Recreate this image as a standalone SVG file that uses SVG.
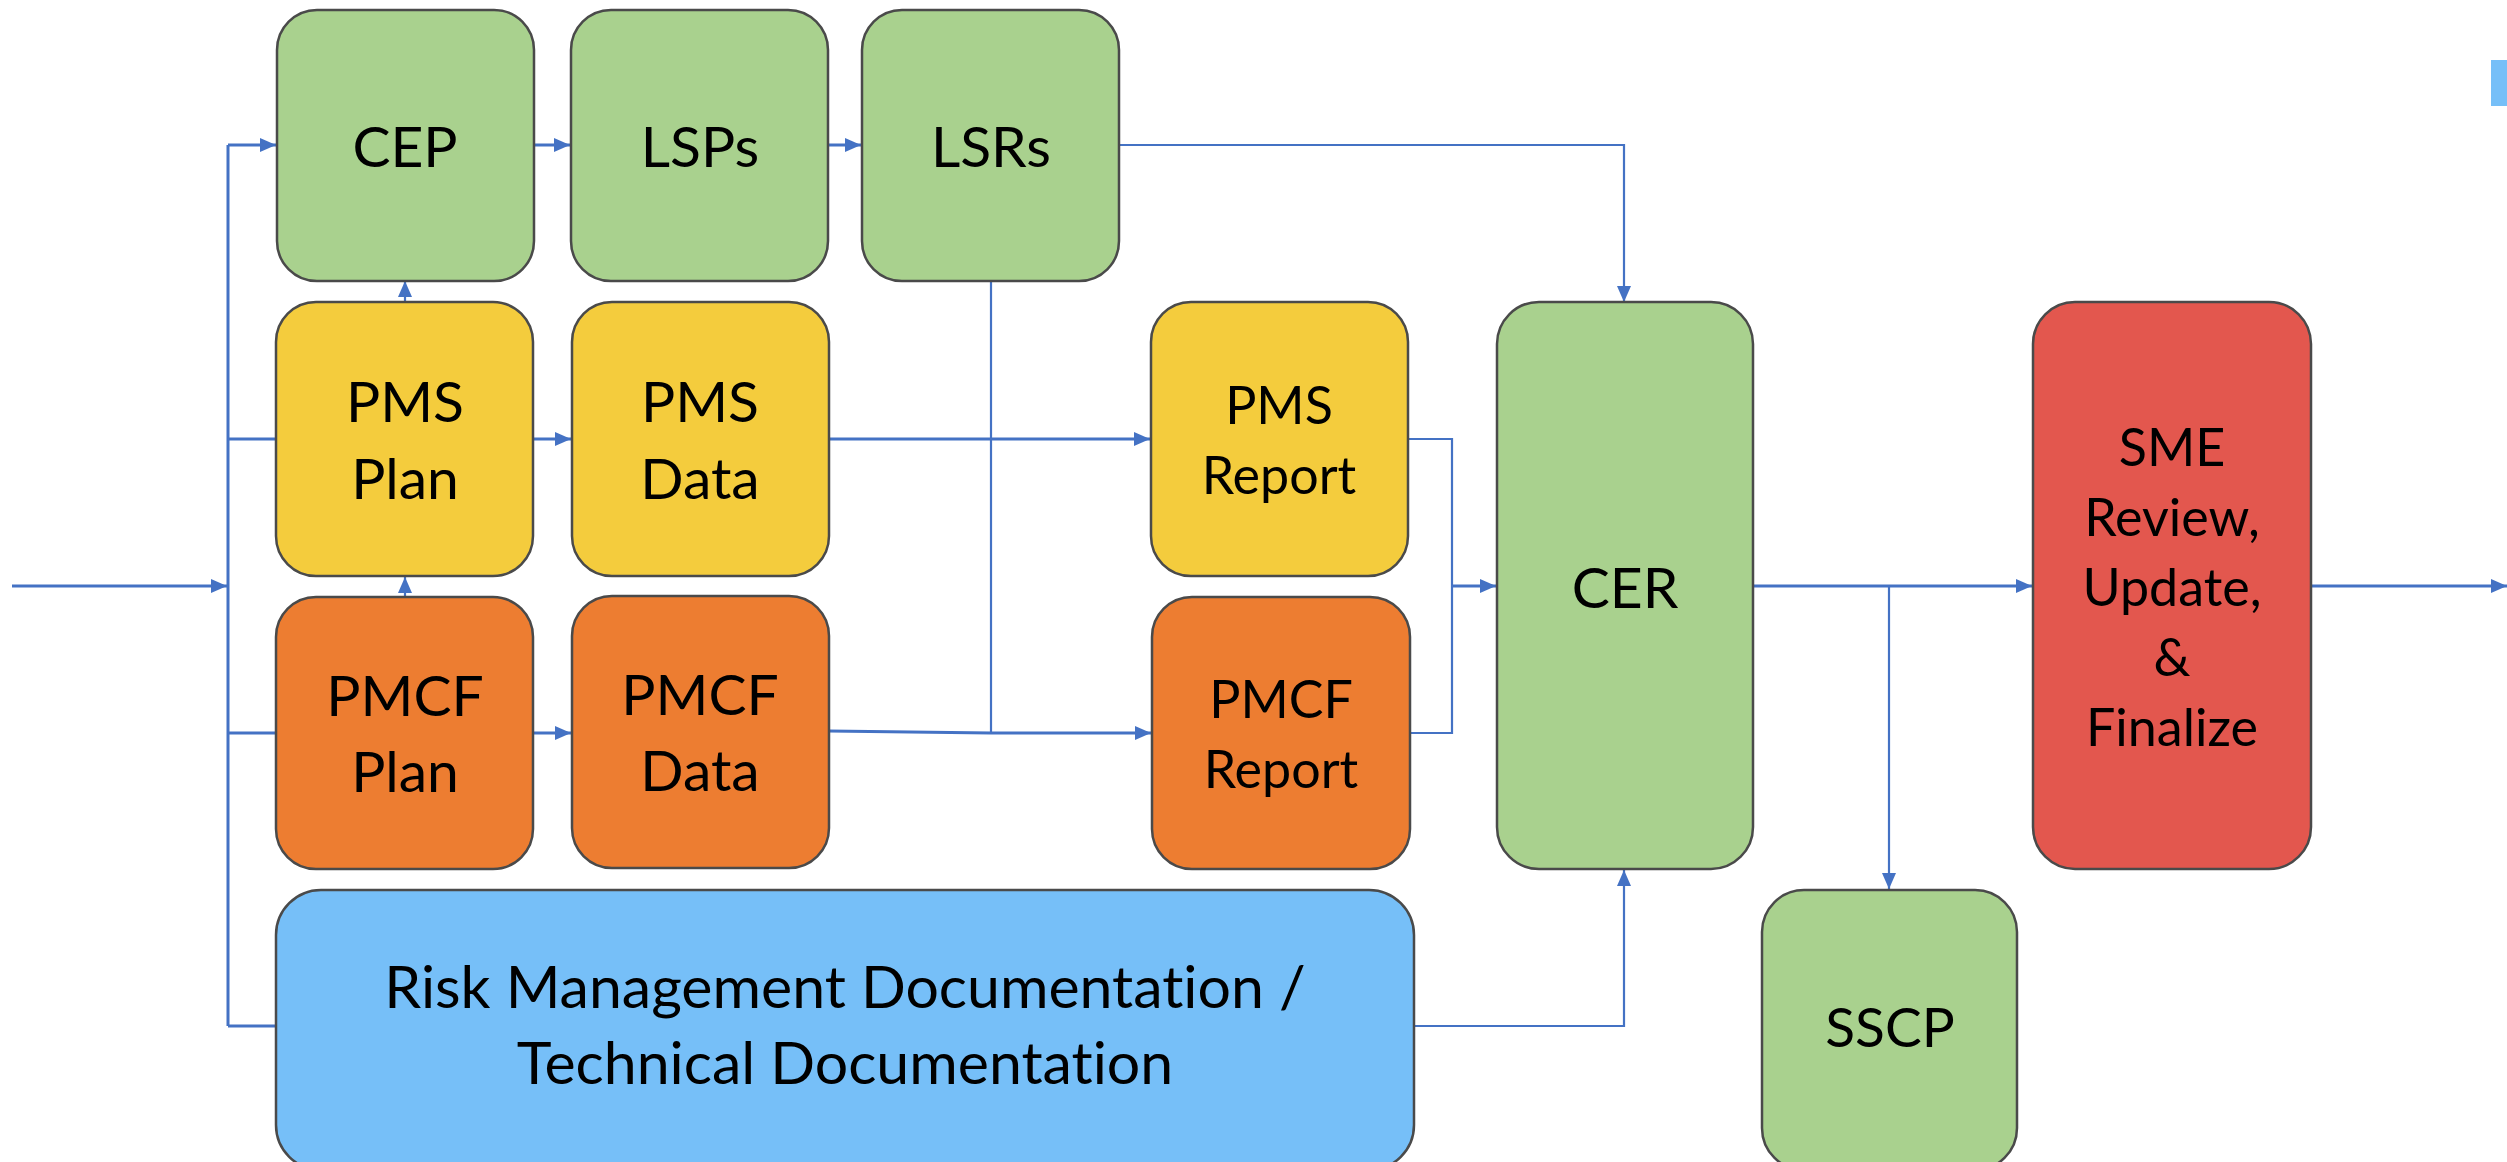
<svg xmlns="http://www.w3.org/2000/svg" width="2507" height="1162" viewBox="0 0 2507 1162">
<style>
.box{stroke:#4a4a4a;stroke-width:2.5}
.g{fill:#A9D18E}.y{fill:#F4CC3D}.o{fill:#ED7D31}.r{fill:#E3574E}.b{fill:#76BFF8}
text{font-family:Lato,"Open Sans","Liberation Sans",sans-serif;fill:#000;text-anchor:middle;font-variant-ligatures:none}
.t64{font-size:57px}.t58{font-size:52px}
.c{fill:none;stroke:#4472C4;stroke-width:3}
.c2{fill:none;stroke:#4472C4;stroke-width:2.2}
</style>
<defs>
<marker id="ah" markerUnits="userSpaceOnUse" markerWidth="16" markerHeight="14" viewBox="0 0 16 14" refX="16" refY="7" orient="auto">
<path d="M0,0 L16,7 L0,14 Z" fill="#4472C4"/>
</marker>
</defs>
<rect x="2491" y="60" width="16" height="46" fill="#76BFF8"/>
<g id="connectors">
<path class="c" d="M12,586 H227" marker-end="url(#ah)"/>
<path class="c" d="M228,145 V1026"/>
<path class="c" d="M228,145 H276" marker-end="url(#ah)"/>
<path class="c" d="M228,439 H276"/>
<path class="c" d="M228,733 H276"/>
<path class="c" d="M228,1026 H276"/>
<path class="c" d="M534,145 H570" marker-end="url(#ah)"/>
<path class="c" d="M828,145 H861" marker-end="url(#ah)"/>
<path class="c2" d="M1119,145 H1624 V302" marker-end="url(#ah)"/>
<path class="c2" d="M405,302 V281" marker-end="url(#ah)"/>
<path class="c2" d="M405,597 V577" marker-end="url(#ah)"/>
<path class="c" d="M533,439 H571" marker-end="url(#ah)"/>
<path class="c" d="M533,733 H571" marker-end="url(#ah)"/>
<path class="c" d="M829,439 H1150" marker-end="url(#ah)"/>
<path class="c2" d="M991,281 V733"/>
<path class="c" d="M829,731 L991,733 H1151" marker-end="url(#ah)"/>
<path class="c2" d="M1408,439 H1452 V733 H1410"/>
<path class="c" d="M1452,586 H1496" marker-end="url(#ah)"/>
<path class="c2" d="M1414,1026 H1624 V870" marker-end="url(#ah)"/>
<path class="c" d="M1753,586 H2032" marker-end="url(#ah)"/>
<path class="c2" d="M1889,586 V889" marker-end="url(#ah)"/>
<path class="c" d="M2311,586 H2507" marker-end="url(#ah)"/>
</g>
<g id="cep"><rect class="box g" x="277" y="10" width="257" height="271" rx="40"/><text class="t64" x="405" y="167">CEP</text></g>
<g id="lsps"><rect class="box g" x="571" y="10" width="257" height="271" rx="40"/><text class="t64" x="700" y="167">LSPs</text></g>
<g id="lsrs"><rect class="box g" x="862" y="10" width="257" height="271" rx="40"/><text class="t64" x="991" y="167">LSRs</text></g>
<g id="pms-plan"><rect class="box y" x="276" y="302" width="257" height="274" rx="40"/><text class="t64" x="405" y="422">PMS</text><text class="t64" x="405" y="499">Plan</text></g>
<g id="pms-data"><rect class="box y" x="572" y="302" width="257" height="274" rx="40"/><text class="t64" x="700" y="422">PMS</text><text class="t64" x="700" y="499">Data</text></g>
<g id="pms-report"><rect class="box y" x="1151" y="302" width="257" height="274" rx="40"/><text class="t58" x="1279" y="424">PMS</text><text class="t58" x="1279" y="494">Report</text></g>
<g id="pmcf-plan"><rect class="box o" x="276" y="597" width="257" height="272" rx="40"/><text class="t64" x="405" y="716">PMCF</text><text class="t64" x="405" y="792">Plan</text></g>
<g id="pmcf-data"><rect class="box o" x="572" y="596" width="257" height="272" rx="40"/><text class="t64" x="700" y="715">PMCF</text><text class="t64" x="700" y="791">Data</text></g>
<g id="pmcf-report"><rect class="box o" x="1152" y="597" width="258" height="272" rx="40"/><text class="t58" x="1281" y="718">PMCF</text><text class="t58" x="1281" y="788">Report</text></g>
<g id="cer"><rect class="box g" x="1497" y="302" width="256" height="567" rx="42"/><text class="t64" x="1625" y="608">CER</text></g>
<g id="sme"><rect class="box r" x="2033" y="302" width="278" height="567" rx="42"/><text class="t58" x="2172" y="466">SME</text><text class="t58" x="2172" y="536">Review,</text><text class="t58" x="2172" y="606">Update,</text><text class="t58" x="2172" y="676">&amp;</text><text class="t58" x="2172" y="746">Finalize</text></g>
<g id="sscp"><rect class="box g" x="1762" y="890" width="255" height="280" rx="42"/><text style="font-size:55px" x="1890" y="1047">SSCP</text></g>
<g id="rm"><rect class="box b" x="276" y="890" width="1138" height="280" rx="45"/><text style="font-size:59px" x="845" y="1008">Risk Management Documentation /</text><text style="font-size:59px" x="845" y="1084">Technical Documentation</text></g>
</svg>
